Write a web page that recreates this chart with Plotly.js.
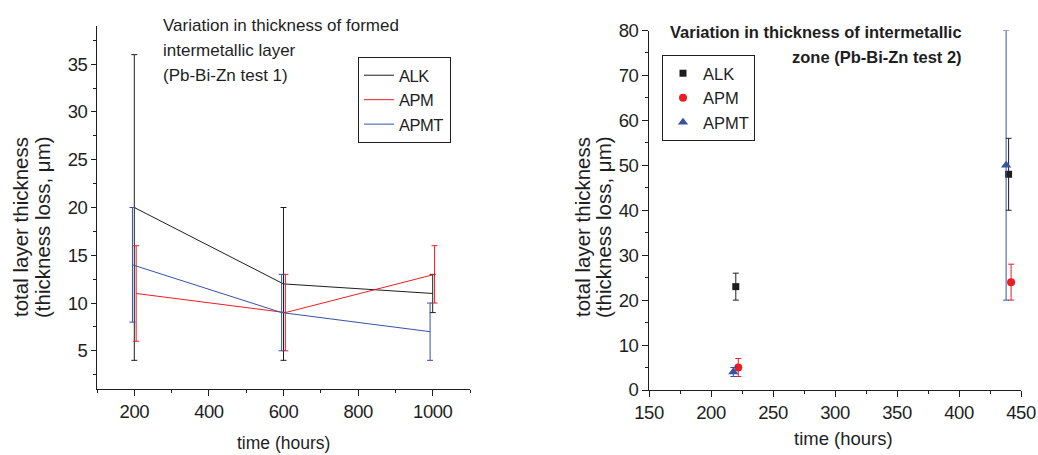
<!DOCTYPE html>
<html>
<head>
<meta charset="utf-8">
<script src="https://cdn.plot.ly/plotly-3.0.1.min.js"></script>
<style>
html,body{margin:0;padding:0;background:#fff;}
#chart{width:1038px;height:455px;}
#chart .xtick text, #chart .ytick text, #chart .x2tick text, #chart .y2tick text,
#chart .legendtext{letter-spacing:-0.5px;}
</style>
</head>
<body>
<div id="chart"></div>
<script>
// ---- Data: test 1 (left panel) ----
const seriesNames = ['ALK', 'APM', 'APMT'];
const t1_ALK_x = [200, 600, 1000];
const t1_ALK_y = [20, 12, 11];
const t1_ALK_errPlus = [16, 8, 2];
const t1_ALK_errMinus = [16, 8, 2];
const t1_APM_x = [205, 605, 1005];
const t1_APM_y = [11, 9, 13];
const t1_APM_errPlus = [5, 4, 3];
const t1_APM_errMinus = [5, 4, 3];
const t1_APMT_x = [195, 595, 993];
const t1_APMT_y = [14, 9, 7];
const t1_APMT_errPlus = [6, 4, 3];
const t1_APMT_errMinus = [6, 4, 3];

// ---- Data: test 2 (right panel) ----
const t2_ALK_x = [220, 440];
const t2_ALK_y = [23, 48];
const t2_ALK_errPlus = [3, 8];
const t2_ALK_errMinus = [3, 8];
const t2_APM_x = [222, 442];
const t2_APM_y = [5, 24];
const t2_APM_errPlus = [2, 4];
const t2_APM_errMinus = [2, 4];
const t2_APMT_x = [218, 438];
const t2_APMT_y = [4, 50];
const t2_APMT_errPlus = [1, 30];
const t2_APMT_errMinus = [1, 30];

// ---- Text ----
const title1Lines = ['Variation in thickness of formed', 'intermetallic layer', '(Pb-Bi-Zn test 1)'];
const title2Lines = ['Variation in thickness of intermetallic', 'zone (Pb-Bi-Zn test 2)'];
const yTitleLines = ['total layer thickness', '(thickness loss, μm)'];
const xTitle = 'time (hours)';

const W = 1038, H = 455;
const px = v => v / W;
const py = v => 1 - v / H;

const FONT = 'Liberation Sans, Arial, Helvetica, sans-serif';
const INK = '#1e1e1e';
const RED = '#ec1c24';
const BLUE = '#3652a6';
const colors = [INK, RED, BLUE];

function errs(plus, minus, color, w) {
  return {type: 'data', symmetric: false, array: plus, arrayminus: minus,
          color: color, thickness: 1, width: w, visible: true};
}

const t1 = [
  [t1_ALK_x, t1_ALK_y, t1_ALK_errPlus, t1_ALK_errMinus],
  [t1_APM_x, t1_APM_y, t1_APM_errPlus, t1_APM_errMinus],
  [t1_APMT_x, t1_APMT_y, t1_APMT_errPlus, t1_APMT_errMinus]
];
const t2 = [
  [t2_ALK_x, t2_ALK_y, t2_ALK_errPlus, t2_ALK_errMinus],
  [t2_APM_x, t2_APM_y, t2_APM_errPlus, t2_APM_errMinus],
  [t2_APMT_x, t2_APMT_y, t2_APMT_errPlus, t2_APMT_errMinus]
];
const symbols = ['square', 'circle', 'triangle-up'];
const msizes = [7, 8, 9];

const traces = [];
t1.forEach((s, i) => {
  traces.push({
    type: 'scatter', mode: 'lines', name: seriesNames[i],
    x: s[0], y: s[1], xaxis: 'x', yaxis: 'y',
    line: {color: colors[i], width: 1},
    error_y: errs(s[2], s[3], colors[i], 3),
    legend: 'legend'
  });
});
t2.forEach((s, i) => {
  traces.push({
    type: 'scatter', mode: 'markers', name: seriesNames[i],
    x: s[0], y: s[1], xaxis: 'x2', yaxis: 'y2',
    marker: {color: colors[i], size: msizes[i], symbol: symbols[i]},
    error_y: errs(s[2], s[3], colors[i], 3),
    legend: 'legend2'
  });
});

const tickFont = {family: FONT, size: 18.5, color: INK};
function axis(extra) {
  return Object.assign({
    showgrid: false, zeroline: false, showline: true, linecolor: INK, linewidth: 1,
    ticks: 'outside', ticklen: 6, tickwidth: 1, tickcolor: INK,
    tickfont: tickFont, fixedrange: true
  }, extra);
}

const annotations = [];
// left title
title1Lines.forEach((t, i) => {
  annotations.push({xref: 'paper', yref: 'paper', x: px(161), y: py(25 + i * 25.5),
    xanchor: 'left', yanchor: 'middle', showarrow: false, text: t,
    font: {family: FONT, size: 17, color: INK}});
});
// right title
title2Lines.forEach((t, i) => {
  annotations.push({xref: 'paper', yref: 'paper', x: px(964), y: py(32 + i * 25),
    xanchor: 'right', yanchor: 'middle', showarrow: false, text: '<b>' + t + '</b>',
    font: {family: FONT, size: 16.5, color: INK}});
});
// y titles
[[20, 42], [582, 603]].forEach(xs => {
  yTitleLines.forEach((t, i) => {
    annotations.push({xref: 'paper', yref: 'paper', x: px(xs[i]), y: py(227),
      xanchor: 'center', yanchor: 'middle', showarrow: false, textangle: -90, text: t,
      font: {family: FONT, size: 20.5, color: INK}});
  });
});
// x titles
annotations.push({xref: 'paper', yref: 'paper', x: px(283), y: py(443),
  xanchor: 'center', yanchor: 'middle', showarrow: false, text: xTitle,
  font: {family: FONT, size: 17.5, color: INK}});
annotations.push({xref: 'paper', yref: 'paper', x: px(843), y: py(438),
  xanchor: 'center', yanchor: 'middle', showarrow: false, text: xTitle,
  font: {family: FONT, size: 18.5, color: INK}});

const legendBase = {
  bgcolor: 'rgba(255,255,255,1)', bordercolor: INK, borderwidth: 1,
  font: {family: FONT, size: 16.5, color: INK}, xanchor: 'left', yanchor: 'top',
  tracegroupgap: 0, itemclick: false, itemdoubleclick: false
};

const layout = {
  width: W, height: H,
  margin: {l: 0, r: 0, t: 0, b: 0},
  paper_bgcolor: '#fff', plot_bgcolor: '#fff',
  font: {family: FONT, color: INK},
  showlegend: true,
  xaxis: axis({domain: [px(97), px(470)], range: [100, 1100], dtick: 200, tick0: 0,
    anchor: 'y', minor: {dtick: 100, ticks: 'outside', ticklen: 3, tickcolor: INK}}),
  yaxis: axis({domain: [py(389), py(26)], range: [1, 39], dtick: 5, tick0: 0,
    anchor: 'x', ticklen: 5, minor: {dtick: 2.5, ticks: 'outside', ticklen: 3, tickcolor: INK}}),
  xaxis2: axis({domain: [px(649), px(1021)], range: [150, 450], dtick: 50, tick0: 0,
    anchor: 'y2', minor: {dtick: 25, ticks: 'outside', ticklen: 3, tickcolor: INK}}),
  yaxis2: axis({domain: [py(390), py(30.5)], range: [0, 80], dtick: 10, tick0: 0,
    anchor: 'x2', minor: {dtick: 5, ticks: 'outside', ticklen: 3, tickcolor: INK}}),
  legend: Object.assign({}, legendBase, {x: px(358), y: py(57)}),
  legend2: Object.assign({}, legendBase, {x: px(662), y: py(55)}),
  annotations: annotations
};

Plotly.newPlot('chart', traces, layout, {displayModeBar: false, staticPlot: true});
</script>
</body>
</html>
